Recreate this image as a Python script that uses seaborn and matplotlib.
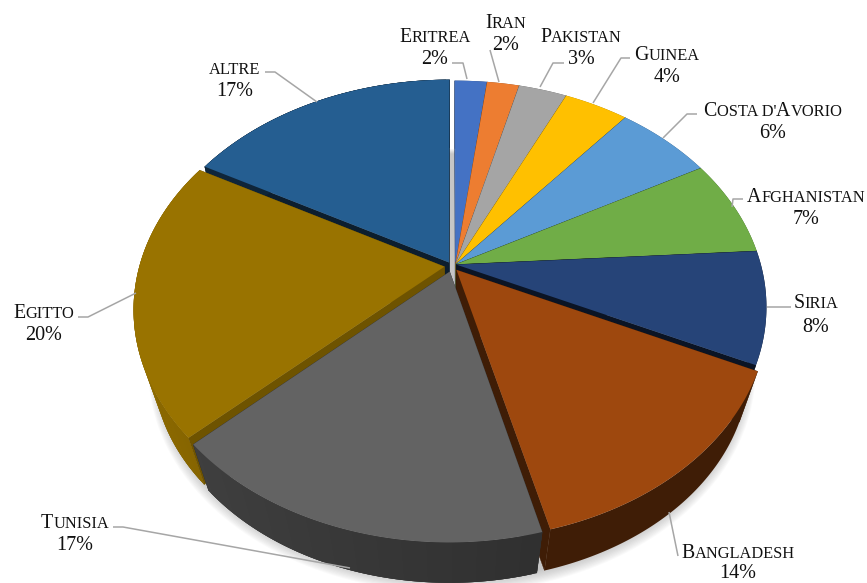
import numpy as np
import seaborn as sns
import matplotlib
matplotlib.use("Agg")
import matplotlib.pyplot as plt

# Shares of the population by country of origin (percent), clockwise from the top
countries = ["Eritrea", "Iran", "Pakistan", "Guinea", "Costa d'Avorio", "Afghanistan",
             "Siria", "Bangladesh", "Tunisia", "Egitto", "altre"]
shares = [2, 2, 3, 4, 6, 7, 8, 14, 17, 20, 17]
hex_colors = ["#4472C4", "#ED7D31", "#A5A5A5", "#FFC000", "#5B9BD5", "#70AD47",
              "#264478", "#9E480E", "#636363", "#997300", "#255E91"]
wall_factor = [0.55, 0.55, 0.55, 0.6, 0.5, 0.5, 0.3, 0.4, 0.52, 0.72, 0.32]

# Label anchors: name centre, value centre, leader polyline (axes are in pixels)
label_at = {
    "Eritrea": ((435, 35), (435, 58), [(452, 63), (463, 63), (467, 79)]),
    "Iran": ((506, 21), (506, 44), [(490, 50), (499, 82)]),
    "Pakistan": ((581, 35), (581, 58), [(564, 63), (553, 63), (540, 87)]),
    "Guinea": ((667, 53), (667, 77), [(630, 58), (621, 58), (593, 103)]),
    "Costa d'Avorio": ((773, 109), (773, 133), [(697, 114), (687, 114), (663, 138)]),
    "Afghanistan": ((806, 195), (806, 218), [(743, 199), (733, 199), (732, 207)]),
    "Siria": ((816, 301), (816, 326), [(791, 307), (767, 307)]),
    "Bangladesh": ((738, 551), (738, 572), [(669, 512), (678, 556)]),
    "Tunisia": ((75, 521), (75, 545), [(113, 527), (123, 527), (350, 568)]),
    "Egitto": ((44, 312), (44, 334), [(78, 317), (88, 317), (136, 293)]),
    "altre": ((235, 67), (235, 90), [(265, 72), (275, 72), (317, 102)]),
}

# Exploded groups: the first seven slices move together, with a hairline between them
groups = [([0, 1, 2, 3, 4, 5, 6], 0.013), ([7], 0.02), ([8], 0.024), ([9], 0.022), ([10], 0.016)]

sns.set_theme(style="white")
plt.rcParams["font.family"] = ["Liberation Serif", "DejaVu Serif"]
palette = sns.color_palette(hex_colors)

CX, CY, RX, RY, TILT = 452.0, 266.0, 305.0, 218.0, 0.186
DEPTH_SCALE, DEPTH_SHIFT = 0.94, 57.0


def project(x, y):
    w = 1 + TILT * np.asarray(y)
    return CX + RX * np.asarray(x) / w, CY - RY * np.asarray(y) / w


def lower(sx, sy):
    return CX + (sx - CX) * DEPTH_SCALE, CY + (sy - CY) * DEPTH_SCALE + DEPTH_SHIFT


def shade(color, f):
    return tuple(np.clip(np.array(color) * f, 0, 1))


fig = plt.figure(figsize=(8.67, 5.83), dpi=100, facecolor="white")
ax = fig.add_axes([0, 0, 1, 1])
ax.set_xlim(0, 867)
ax.set_ylim(583, 0)
ax.axis("off")

# Soft shadow under the base of the pie
t = np.linspace(0, 2 * np.pi, 300)
bx, by = lower(*project(np.sin(t), np.cos(t)))
for grow in range(1, 13):
    ax.fill(CX + (bx - CX) * (1 + grow / 300), CY + 4 + (by - CY) * (1 + grow / 260),
            color="#808080", alpha=0.045, lw=0, zorder=1)

edges = np.concatenate([[0], np.cumsum(shares)]) / sum(shares) * 2 * np.pi
slices = []
for members, amount in groups:
    mid_all = (edges[members[0]] + edges[members[-1] + 1]) / 2
    for i in members:
        a0, a1 = edges[i], edges[i + 1]
        mid = (a0 + a1) / 2
        ox = amount * np.sin(mid_all) + 0.003 * np.sin(mid)
        oy = amount * np.cos(mid_all) + 0.003 * np.cos(mid)
        th = np.linspace(a0, a1, 80)
        arc_x, arc_y = project(ox + np.sin(th), oy + np.cos(th))
        apex_x, apex_y = project(ox, oy)
        slices.append((i, th, arc_x, arc_y, float(apex_x), float(apex_y)))

# Painter's order: farther slices first
slices.sort(key=lambda s: (s[5] + s[3].mean() * 2) / 3)

for i, th, arc_x, arc_y, apex_x, apex_y in slices:
    base = palette[i]
    low_x, low_y = lower(arc_x, arc_y)
    lax, lay = lower(apex_x, apex_y)
    wall = shade(base, wall_factor[i])
    # radial walls
    for k in (0, -1):
        ax.fill([apex_x, arc_x[k], low_x[k], lax], [apex_y, arc_y[k], low_y[k], lay],
                color=wall, lw=0.3, zorder=2)
    # curved wall: an opaque base, then overlapping strips lighter towards the left
    ax.fill(np.r_[arc_x, low_x[::-1]], np.r_[arc_y, low_y[::-1]], color=wall, lw=0, zorder=2)
    if i >= 8:
        for j in range(len(th) - 2):
            f = 1 - 0.3 * np.sin(th[j + 1])
            ax.fill([arc_x[j], arc_x[j + 2], low_x[j + 2], low_x[j]],
                    [arc_y[j], arc_y[j + 2], low_y[j + 2], low_y[j]],
                    color=shade(wall, f), lw=0, zorder=2)
    # top face
    ax.fill(np.r_[apex_x, arc_x], np.r_[apex_y, arc_y], color=base, lw=0, zorder=2)


def small_caps(center, name, big=14.3, small=11.8, color="#111111"):
    """Write a name in small capitals, centred on a pixel position."""
    runs, cur, cur_big = [], "", None
    for ch in name:
        is_big = ch.isupper()
        if cur_big is None or is_big == cur_big:
            cur += ch
        else:
            runs.append((cur, cur_big))
            cur = ch
        cur_big = is_big
    runs.append((cur, cur_big))
    renderer = fig.canvas.get_renderer()
    pieces, total = [], 0.0
    for txt, is_big in runs:
        shown = txt.upper()
        size = big if is_big else small
        tmp = ax.text(0, 0, shown, fontsize=size)
        width = renderer.get_text_width_height_descent(
            shown, tmp.get_fontproperties(), False)[0]
        tmp.remove()
        pieces.append((shown, size, width))
        total += width
    x = center[0] - total / 2
    for shown, size, width in pieces:
        ax.text(x, center[1] + 6.5, shown, fontsize=size, color=color,
                ha="left", va="baseline", zorder=5)
        x += width


for name, share in zip(countries, shares):
    name_at, value_at, leader = label_at[name]
    small_caps(name_at, name)
    ax.text(value_at[0], value_at[1] + 1, f"{share}%", fontsize=14.5, color="#111111",
            ha="center", va="center", zorder=5)
    xs, ys = zip(*leader)
    ax.plot(xs, ys, color="#A6A6A6", lw=1.1, zorder=4, solid_capstyle="butt")

fig.savefig("out.png", dpi=100, facecolor="white")
